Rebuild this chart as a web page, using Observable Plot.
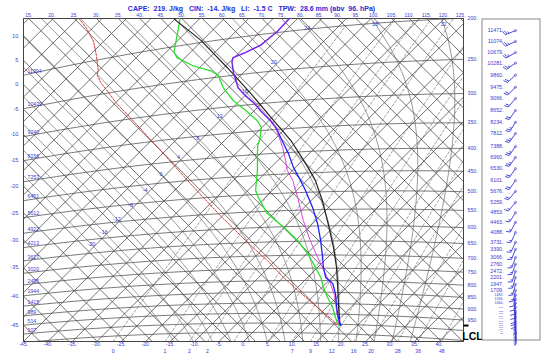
<!DOCTYPE html>
<html>
<head>
<meta charset="utf-8">
<script src="https://cdn.jsdelivr.net/npm/d3@7"></script>
<script src="https://cdn.jsdelivr.net/npm/@observablehq/plot@0.6"></script>
<style>
html,body{margin:0;padding:0;background:#fff;overflow:hidden;}
#chart svg{display:block;}
</style>
</head>
<body>
<div id="chart"></div>
<script>
// ================= DATA =================
const titleText = "CAPE:  219. J/kg   CIN:  -14. J/kg   LI:  -1.5 C   TPW:  28.6 mm (abv  96. hPa)";

// environmental temperature, upper part (violet)  [°C, hPa]
const tempUpperT = [-56.7,-56.5,-57.1,-58.9,-60.2,-59.5,-56.9,-53.0,-49.9,-46.6,-43.0,-39.7,-37.2,-35.4];
const tempUpperP = [185,199,213,221,225,231,247,270,284,298,316,332,346,358];
// environmental temperature, lower part (blue)
const tempLowerT = [-35.4,-32.3,-29.3,-25.4,-21.3,-18.2,-13.3,-9.0,-4.9,-1.0,1.2,3.7,6.4,9.0,12.1,13.5,15.8,16.6];
const tempLowerP = [358,380,402,435,468,495,543,592,648,709,747,787,812,855,918,947,991,1006];
// dew point (green)
const dewT = [-79.0,-76.5,-73.4,-71.6,-66.7,-62.2,-59.7,-56.1,-51.4,-46.9,-42.4,-40.1,-38.3,-37.2,-35.6,-32.1,-29.9,-28.4,-26.4,-21.3,-15.1,-9.6,-4.9,-0.4,2.7,5.3,8.2,11.3,13.9,15.6,16.4];
const dewP = [169,185,207,215,229,239,247,267,290,309,330,344,364,380,398,438,468,489,509,557,602,647,694,747,787,829,873,919,967,997,1006];
// lifted parcel (black)
const parcelT = [-80.2,-70.4,-59.3,-49.3,-39.1,-31.5,-25.4,-22.1,-18.2,-12.7,-6.8,-0.8,3.9,8.2,12.5,16.0,16.6];
const parcelP = [168,197,238,281,332,374,415,439,470,524,593,673,747,828,918,996,1006];
// wet-bulb temperature (magenta)
const wetT = [-37.2,-31.7,-28.4,-26.0,-22.9,-18.4,-12.5,-7.0,-2.0,1.9,5.9,9.2,12.7,15.8,16.6];
const wetP = [346,388,418,442,467,513,582,648,709,759,812,863,933,996,1006];
// red dashed curve
const redT = [-99.8,-96.2,-91.9,-88.6,-85.5,-84.3,-82.2,-78.6,-75.1,-68.7,-56.1,-43.2,-30.5,-18.2,-11.7,-4.9,1.6,8.2,13.1,15.6];
const redP = [148,160,177,194,212,221,232,249,267,299,371,458,556,660,718,787,852,920,972,1002];

// reference-line values
const isothermTicks = d3.range(-110, 50, 5);
const isentropeTicks = d3.range(-50, 130, 5);
const isobarTicks = [1050,1000,950,900,850,800,750,700,650,600,550,500,450,400,350,300,250,200];
const moistTicks = [-20,-16,-12,-8,-4,0,4,8,12,16,20,24,28,32];
const mixTicks = [0.4,1,1.5,2,3,5,7,9,12,16,20,28,36,48];

// axis labels
const bottomTempLabels = d3.range(-45, 45, 5);
const topThetaLabels = d3.range(15, 130, 5);
const leftThetaLabels = d3.range(-45, 15, 5);
const rightPressLabels = [200,250,300,350,400,450,500,550,600,650,700,750,800,850,900,950];
const heightPress = [200,250,300,350,400,450,500,550,600,650,700,750,800,850,900,950,1000];
const heightLabels = ["11094","10439","9240","8156","7253","6451","5612","4922","4213","3627","3020","2495","1944","1415","989","514","107"];
const lclPressure = 976;

// wind panel
const windH = ["11471","11074","10679","10281","9860","9475","9066","8652","8234","7812","7388","6960","6530","6101","5676","5259","4853","4463","4088","3731","3390","3066","2760","2472","2201","1947","1709","1482","1266","1060","866","752","655","567","480","396","314","245","178","118","64","22"];
const windP = [214,227,241,255,272,290,308,328,349,370,396,419,444,472,499,528,556,584,615,646,669,697,721,747,770,797,821,841,858,875,893,911,920,933,943,957,966,976,985,995,1005,1014];
const windDir = [248,245,240,235,228,225,220,215,212,215,215,215,215,215,220,220,212,208,205,205,202,200,200,198,196,195,192,190,188,186,185,184,183,182,181,180,180,179,178,178,177,177];
const windSpd = [25,25,25,25,20,20,20,20,25,25,25,25,20,20,20,15,15,15,15,15,15,15,15,15,15,15,15,10,10,10,10,10,10,10,5,5,5,5,5,5,5,5];

// ================= TEPHIGRAM PROJECTION =================
const K0 = 273.15, KAP = 0.2857;
function uv(T, p) {
  const th = (T + K0) * Math.pow(1000 / p, KAP);
  const phi = K0 * Math.log(th / K0);
  return [T + phi, phi - T];
}
const [U0, V0] = uv(-45, 1044);
const U1 = U0 + 180;
const PXL = 23, PXR = 463, PXT = 18, PXB = 341;
const V1 = V0 + 180 * (PXB - PXT) / (PXR - PXL);
const pxU = x => U0 + (x - PXL) * (U1 - U0) / (PXR - PXL);
const pxV = y => V0 + (PXB - y) * (V1 - V0) / (PXB - PXT);
const vPy = v => PXB - (v - V0) * (PXB - PXT) / (V1 - V0);

function tAtU(p, U) {
  let lo = -250, hi = 150;
  for (let i = 0; i < 60; i++) { const m = (lo + hi) / 2; if (uv(m, p)[0] < U) lo = m; else hi = m; }
  return (lo + hi) / 2;
}

function clipSeg(a, b) {
  let t0 = 0, t1 = 1;
  const du = b[0] - a[0], dv = b[1] - a[1];
  const P = [-du, du, -dv, dv], Q = [a[0] - U0, U1 - a[0], a[1] - V0, V1 - a[1]];
  for (let i = 0; i < 4; i++) {
    if (P[i] === 0) { if (Q[i] < 0) return null; }
    else {
      const r = Q[i] / P[i];
      if (P[i] < 0) { if (r > t1) return null; if (r > t0) t0 = r; }
      else { if (r < t0) return null; if (r < t1) t1 = r; }
    }
  }
  return [[a[0] + t0 * du, a[1] + t0 * dv], [a[0] + t1 * du, a[1] + t1 * dv]];
}
function clipLine(pts, id, out) {
  let run = 0, last = null;
  for (let i = 0; i < pts.length - 1; i++) {
    const c = clipSeg(pts[i], pts[i + 1]);
    if (!c) { last = null; continue; }
    if (!last || Math.abs(last[0] - c[0][0]) > 1e-9 || Math.abs(last[1] - c[0][1]) > 1e-9) {
      run++; out.push({u: c[0][0], v: c[0][1], id: id + "_" + run});
    }
    out.push({u: c[1][0], v: c[1][1], id: id + "_" + run});
    last = c[1];
  }
  return out;
}
function cross(pts, idx, val) {
  for (let i = 0; i < pts.length - 1; i++) {
    const a = pts[i][idx] - val, b = pts[i + 1][idx] - val;
    if (a === 0) return pts[i];
    if (a * b < 0) {
      const t = a / (a - b);
      return [pts[i][0] + t * (pts[i + 1][0] - pts[i][0]), pts[i][1] + t * (pts[i + 1][1] - pts[i][1])];
    }
  }
  return null;
}

// ---- reference lines ----
const isoT = [];
isothermTicks.forEach(T => clipLine([[T - 400, -400 - T], [T + 400, 400 - T]], "T" + T, isoT));
const isoTh = [];
isentropeTicks.forEach(th => {
  const phi = K0 * Math.log((th + K0) / K0);
  clipLine([[phi - 400, phi + 400], [phi + 400, phi - 400]], "th" + th, isoTh);
});
const isoP = [];
isobarTicks.forEach(p => clipLine(d3.range(-170, 71, 1).map(T => uv(T, p)), "p" + p, isoP));

function moistAdiabat(thw) {
  const Rd = 287.04, cp = 1005.7, Lv = 2.501e6, eps = 0.622;
  const f = (T, p) => {
    const Tc = T - 273.15;
    const es = 6.112 * Math.exp(17.67 * Tc / (Tc + 243.5));
    const rs = eps * es / (p - es);
    return (Rd * T + Lv * rs) / (cp + Lv * Lv * rs * eps / (Rd * T * T)) / p;
  };
  const T0 = thw + 273.15;
  const up = [[T0, 1000]];
  let T = T0, p = 1000;
  while (p > 120) { const dp = -4; const k1 = f(T, p); const k2 = f(T + k1 * dp, p + dp); T += 0.5 * (k1 + k2) * dp; p += dp; up.push([T, p]); }
  const down = []; T = T0; p = 1000;
  while (p < 1100) { const dp = 4; const k1 = f(T, p); const k2 = f(T + k1 * dp, p + dp); T += 0.5 * (k1 + k2) * dp; p += dp; down.push([T, p]); }
  return down.reverse().concat(up).map(([T, p]) => [T - 273.15, p]);
}
const moist = [], moistLab = [];
moistTicks.forEach(w => {
  const pts = moistAdiabat(w).map(([T, p]) => uv(T, p));
  clipLine(pts, "m" + w, moist);
  // label where it meets the -51 °C isotherm (u - v = -102), else just under the top edge
  let lab = null;
  for (let i = 0; i < pts.length - 1; i++) {
    const a = pts[i][0] - pts[i][1] + 102, b = pts[i + 1][0] - pts[i + 1][1] + 102;
    if (a * b <= 0 && a !== b) { const t = a / (a - b); lab = [pts[i][0] + t * (pts[i + 1][0] - pts[i][0]), pts[i][1] + t * (pts[i + 1][1] - pts[i][1])]; break; }
  }
  const vTop = pxV(PXT + 6);
  if (!lab || lab[1] > vTop) lab = cross(pts, 1, vTop);
  if (lab && lab[0] > U0 && lab[0] < U1) moistLab.push({u: lab[0], v: lab[1], t: String(w)});
});

const mix = [], mixLab = [];
mixTicks.forEach(w => {
  const pts = d3.range(1100, 195, -10).map(p => {
    const e = p * w / (622 + w);
    const L = Math.log(e / 6.112);
    return uv(243.5 * L / (17.67 - L), p);
  });
  clipLine(pts, "w" + w, mix);
  const c = cross(pts, 1, V0);
  if (c) mixLab.push({u: c[0], v: c[1], t: String(Math.round(w))});
});

// ---- sounding curves ----
const curve = (Ts, Ps, id) => clipLine(Ts.map((T, i) => uv(T, Ps[i])), id, []);
const cUpper = curve(tempUpperT, tempUpperP, "tu");
const cLower = curve(tempLowerT, tempLowerP, "tl");
const cDew = curve(dewT, dewP, "d");
const cParcel = curve(parcelT, parcelP, "pc");
const cWet = curve(wetT, wetP, "wb");
const cRed = curve(redT, redP, "r");

// ---- labels ----
const botLab = bottomTempLabels.map(T => ({u: V0 + 2 * T, v: V0, t: T + "."}));
const topLab = topThetaLabels.map(th => { const phi = K0 * Math.log((th + K0) / K0); return {u: 2 * phi - V1, v: V1, t: th + "."}; })
  .filter(d => d.u >= U0 - 1 && d.u <= U1 + 1);
const leftLab = leftThetaLabels.map(th => { const phi = K0 * Math.log((th + K0) / K0); return {u: U0, v: 2 * phi - U0, t: th + "."}; });
const vRight = p => uv(tAtU(p, U1), p)[1];
const vLeft = p => uv(tAtU(p, U0), p)[1];
const rightLab = rightPressLabels.map(p => ({u: U1, v: vRight(p), t: p + "."}));
const hgtLab = heightPress.map((p, i) => ({u: U0, v: vLeft(p), t: heightLabels[i]}));
const lclV = vRight(lclPressure);

// ---- wind panel ----
const BX0 = 482, BX1 = 540, BY0 = 19, BY1 = 340, SX = 515, LBX = 503;
const barbSegs = [], stations = [], windLabBig = [], windLabMid = [], windLabSmall = [];
windH.forEach((h, i) => {
  const v = vRight(windP[i]);
  const ys = vPy(v), xs = SX;
  const d = windDir[i] * Math.PI / 180;
  const sx = Math.sin(d), sy = -Math.cos(d);
  const qx = Math.cos(d), qy = Math.sin(d);
  const L = 11;
  const xe = xs + L * sx, ye = ys + L * sy;
  barbSegs.push([xs, ys, xe, ye]);
  let rem = windSpd[i], pos = 0;
  while (rem >= 10) { const bx = xe - pos * sx, by = ye - pos * sy; barbSegs.push([bx, by, bx + 4 * qx + 1.5 * sx, by + 4 * qy + 1.5 * sy]); rem -= 10; pos += 2; }
  if (rem >= 5) { const bx = xe - pos * sx, by = ye - pos * sy; barbSegs.push([bx, by, bx + 2.2 * qx + 0.8 * sx, by + 2.2 * qy + 0.8 * sy]); }
  stations.push({u: pxU(xs), v: v});
  const item = {u: pxU(LBX), v: v, t: h + "."};
  if (windP[i] > 880) windLabSmall.push(item);
  else if (windP[i] > 830) windLabMid.push(item);
  else windLabBig.push(item);
});
const barbData = barbSegs.map(([a, b, c, d]) => ({x1: pxU(a), y1: pxV(b), x2: pxU(c), y2: pxV(d)}));

// ================= PLOT =================
const BLUE = "#3a3ad0";
const gl = (data, stroke, w, dash) => Plot.line(data, {x: "u", y: "v", z: "id", stroke, strokeWidth: w, strokeDasharray: dash});
const lab = (data, o) => Plot.text(data, Object.assign({x: "u", y: "v", text: "t", fill: BLUE, fontSize: 5.2}, o));

const chart = Plot.plot({
  width: 550, height: 359,
  marginLeft: PXL, marginRight: 550 - PXR, marginTop: PXT, marginBottom: 359 - PXB,
  x: {domain: [U0, U1], axis: null},
  y: {domain: [V0, V1], axis: null},
  style: {fontFamily: "'Liberation Sans', Arial, sans-serif", background: "#fff", overflow: "visible"},
  marks: [
    gl(mix, "#7a7a7a", 0.7, "2.5,2"),
    gl(moist, "#6a6a6a", 0.7),
    gl(isoP, "#555", 0.8),
    gl(isoT, "#444", 0.75),
    gl(isoTh, "#444", 0.75),
    Plot.frame({stroke: "#444", strokeWidth: 1}),
    lab(botLab, {dy: 3}),
    lab(mixLab, {dy: 9.5}),
    lab(topLab, {dy: -2.8, fontSize: 5}),
    lab(leftLab, {textAnchor: "end", dx: -4}),
    lab(rightLab, {textAnchor: "start", dx: 4}),
    lab(hgtLab, {textAnchor: "start", dx: 4, dy: -4}),
    lab(moistLab, {fontSize: 5.5}),
    // sounding
    gl(cRed, "#d42a2a", 0.95, "2.2,1.4"),
    gl(cDew, "#2be02b", 1.3),
    gl(cWet, "#e040e0", 1.0),
    gl(cParcel, "#222", 1.2),
    gl(cLower, "#1f1fff", 1.3),
    gl(cUpper, "#7a22ee", 1.5),
    // LCL
    Plot.link([0], {x1: () => U1, x2: () => pxU(PXR + 5), y1: () => lclV, y2: () => lclV, stroke: "#000", strokeWidth: 2}),
    Plot.text(["LCL"], {x: () => pxU(472), y: () => lclV, dy: 11, fontSize: 10.5, fontWeight: "bold", fill: "#000"}),
    // wind panel
    Plot.rect([0], {x1: () => pxU(BX0), x2: () => pxU(BX1), y1: () => pxV(BY1), y2: () => pxV(BY0), fill: "none", stroke: "#8a8a8a", strokeWidth: 1}),
    lab(windLabBig, {textAnchor: "end", fontSize: 5.3}),
    lab(windLabMid, {textAnchor: "end", fontSize: 3.6}),
    lab(windLabSmall, {textAnchor: "end", fontSize: 2.4}),
    Plot.link(barbData, {x1: "x1", y1: "y1", x2: "x2", y2: "y2", stroke: BLUE, strokeWidth: 0.9}),
    Plot.dot(stations, {x: "u", y: "v", r: 1.1, stroke: BLUE, strokeWidth: 0.6, fill: "none"}),
    // title
    Plot.text([titleText], {frameAnchor: "top", dx: 8, dy: -12.5, fontSize: 7, fontWeight: "bold", fill: "#2a2ad8"})
  ]
});
document.getElementById("chart").appendChild(chart);
</script>
</body>
</html>
